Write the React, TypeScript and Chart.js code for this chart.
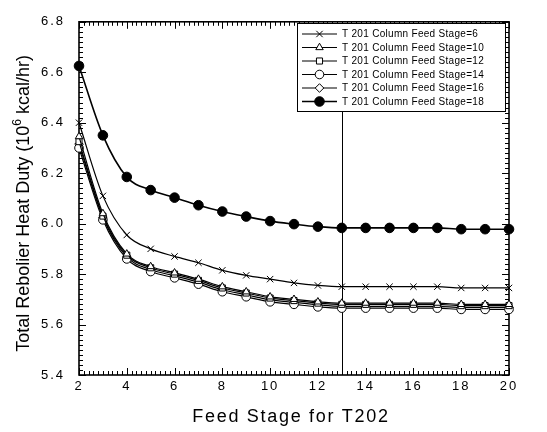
import React, { useEffect, useRef } from "react";
import { Chart, registerables } from "chart.js";
import { drawPoint } from "chart.js/helpers";

Chart.register(...registerables);

const FONT = "'Liberation Sans', Arial, Helvetica, sans-serif";

// ---- data ----
const feedStages = [2, 3, 4, 5, 6, 7, 8, 9, 10, 11, 12, 13, 14, 15, 16, 17, 18, 19, 20];
const stage6 = [6.40, 6.11, 5.955, 5.90, 5.87, 5.845, 5.815, 5.795, 5.78, 5.765, 5.755, 5.75, 5.75, 5.75, 5.75, 5.75, 5.745, 5.745, 5.745];
const stage10 = [6.345, 6.04, 5.88, 5.83, 5.805, 5.78, 5.75, 5.73, 5.71, 5.70, 5.69, 5.685, 5.685, 5.685, 5.685, 5.685, 5.68, 5.68, 5.68];
const stage12 = [6.325, 6.03, 5.875, 5.825, 5.80, 5.775, 5.745, 5.725, 5.705, 5.695, 5.685, 5.68, 5.68, 5.68, 5.68, 5.68, 5.675, 5.675, 5.675];
const stage14 = [6.30, 6.015, 5.86, 5.81, 5.785, 5.76, 5.73, 5.71, 5.69, 5.68, 5.67, 5.665, 5.665, 5.665, 5.665, 5.665, 5.66, 5.66, 5.66];
const stage16 = [6.315, 6.025, 5.868, 5.818, 5.793, 5.768, 5.738, 5.718, 5.698, 5.688, 5.678, 5.672, 5.672, 5.672, 5.672, 5.672, 5.668, 5.668, 5.668];
const stage18 = [6.625, 6.35, 6.185, 6.133, 6.103, 6.073, 6.048, 6.028, 6.01, 5.998, 5.988, 5.983, 5.983, 5.983, 5.983, 5.983, 5.978, 5.978, 5.978];

const seriesLabels = [
  "T 201 Column Feed Stage=6",
  "T 201 Column Feed Stage=10",
  "T 201 Column Feed Stage=12",
  "T 201 Column Feed Stage=14",
  "T 201 Column Feed Stage=16",
  "T 201 Column Feed Stage=18",
];
const seriesValues = [stage6, stage10, stage12, stage14, stage16, stage18];
const seriesMarkers = ["crossRot", "triangle", "rect", "circle", "rectRot", "circle"];
const seriesFilled = [false, false, false, false, false, true];

const xMin = 2;
const xMax = 20;
const xStep = 2;
const yMin = 5.4;
const yMax = 6.8;
const yStep = 0.2;
const markerStage = 13;

const xTitle = "Feed Stage for T202";
const yTitleMain = "Total Rebolier Heat Duty (10";
const yTitleSup = "6";
const yTitleEnd = " kcal/hr)";

const markerRadius = (i: number) => (seriesFilled[i] ? 4.8 : seriesMarkers[i] === "crossRot" ? 4.5 : 4.3);

const decorPlugin = {
  id: "decor",
  beforeDraw(chart: any) {
    chart.ctx.letterSpacing = "2px";
  },
  beforeDatasetsDraw(chart: any) {
    const ctx = chart.ctx;
    ctx.letterSpacing = "0px";
    const { left, right, top, bottom } = chart.chartArea;
    const x = chart.scales.x;
    const y = chart.scales.y;
    ctx.save();
    ctx.strokeStyle = "#000";
    const px = Math.round(x.getPixelForValue(markerStage)) + 0.5;
    ctx.lineWidth = 1;
    ctx.beginPath();
    ctx.moveTo(px, top);
    ctx.lineTo(px, bottom);
    ctx.stroke();
    ctx.lineWidth = 1;
    ctx.beginPath();
    const nx = Math.round((xMax - xMin) / 0.2);
    for (let i = 0; i <= nx; i++) {
      const v = xMin + i * 0.2;
      const p = Math.round(x.getPixelForValue(v)) + 0.5;
      const len = i % 10 === 0 ? 7 : 4;
      ctx.moveTo(p, bottom);
      ctx.lineTo(p, bottom - len);
      ctx.moveTo(p, top);
      ctx.lineTo(p, top + len);
    }
    const ny = Math.round((yMax - yMin) / 0.02);
    for (let i = 0; i <= ny; i++) {
      const v = yMin + i * 0.02;
      const p = Math.round(y.getPixelForValue(v)) + 0.5;
      const len = i % 10 === 0 ? 7 : 4;
      ctx.moveTo(left, p);
      ctx.lineTo(left + len, p);
      ctx.moveTo(right, p);
      ctx.lineTo(right - len, p);
    }
    ctx.stroke();
    ctx.lineWidth = 1.6;
    ctx.strokeRect(left, top, right - left, bottom - top);
    ctx.restore();
  },
  afterDraw(chart: any) {
    const ctx = chart.ctx;
    const { left, right, top, bottom } = chart.chartArea;
    ctx.save();
    ctx.fillStyle = "#000";
    ctx.font = `18px ${FONT}`;
    ctx.letterSpacing = "1.7px";
    ctx.textAlign = "center";
    ctx.textBaseline = "middle";
    ctx.fillText(xTitle, (left + right) / 2 - 3, 417);
    ctx.letterSpacing = "0px";
    ctx.translate(24, (top + bottom) / 2 + 5);
    ctx.rotate(-Math.PI / 2);
    ctx.textAlign = "left";
    ctx.font = `18px ${FONT}`;
    const w1 = ctx.measureText(yTitleMain).width;
    const w3 = ctx.measureText(yTitleEnd).width;
    ctx.font = `12px ${FONT}`;
    const w2 = ctx.measureText(yTitleSup).width;
    const total = w1 + w2 + w3;
    let sx = -total / 2;
    ctx.font = `18px ${FONT}`;
    ctx.fillText(yTitleMain, sx, 0);
    sx += w1;
    ctx.font = `12px ${FONT}`;
    ctx.fillText(yTitleSup, sx, -6);
    sx += w2;
    ctx.font = `18px ${FONT}`;
    ctx.fillText(yTitleEnd, sx, 0);
    ctx.restore();

    // legend
    ctx.save();
    const bx = 297.5, by = 23.5, bw = 208, bh = 88;
    ctx.fillStyle = "#fff";
    ctx.fillRect(bx, by, bw, bh);
    ctx.strokeStyle = "#000";
    ctx.lineWidth = 1;
    ctx.strokeRect(bx, by, bw, bh);
    ctx.font = `10px ${FONT}`;
    ctx.letterSpacing = "0.3px";
    ctx.textAlign = "left";
    ctx.textBaseline = "middle";
    for (let i = 0; i < seriesLabels.length; i++) {
      const ly = 34 + i * 13.5;
      ctx.strokeStyle = "#000";
      ctx.lineWidth = seriesFilled[i] ? 1.6 : 1.2;
      ctx.beginPath();
      ctx.moveTo(302, ly);
      ctx.lineTo(337, ly);
      ctx.stroke();
      ctx.fillStyle = seriesFilled[i] ? "#000" : "#fff";
      ctx.lineWidth = 1;
      drawPoint(ctx, { pointStyle: seriesMarkers[i] as any, radius: markerRadius(i), rotation: 0, borderWidth: 1 } as any, 319.5, ly);
      ctx.fillStyle = "#000";
      ctx.fillText(seriesLabels[i], 342, ly + 0.5);
    }
    ctx.restore();
  },
};

export default function App() {
  const canvasRef = useRef<HTMLCanvasElement | null>(null);

  useEffect(() => {
    const canvas = canvasRef.current;
    if (!canvas) return;
    const datasets = seriesLabels.map((label, i) => ({
      label,
      data: feedStages.map((s, k) => ({ x: s, y: seriesValues[i][k] })),
      borderColor: "#000",
      backgroundColor: seriesFilled[i] ? "#000" : "#fff",
      borderWidth: seriesFilled[i] ? 1.6 : 1.2,
      pointStyle: seriesMarkers[i],
      pointRadius: markerRadius(i),
      pointBorderWidth: 1,
      pointBorderColor: "#000",
      pointBackgroundColor: seriesFilled[i] ? "#000" : "#fff",
      cubicInterpolationMode: "monotone" as const,
      clip: false as any,
      fill: false,
    }));
    const chart = new Chart(canvas, {
      type: "line",
      data: { datasets },
      options: {
        animation: false,
        responsive: false,
        maintainAspectRatio: false,
        layout: { padding: { left: 0, top: 14, right: 38, bottom: 0 } },
        plugins: { legend: { display: false }, tooltip: { enabled: false } },
        scales: {
          x: {
            type: "linear",
            min: xMin,
            max: xMax,
            grid: { display: false, drawTicks: false },
            border: { display: false },
            ticks: {
              stepSize: xStep,
              padding: 4,
              color: "#000",
              font: { family: FONT, size: 13 },
              maxRotation: 0,
              autoSkip: false,
              callback: (v: any) => String(Math.round(Number(v))),
            },
            afterFit: (scale: any) => {
              scale.height = 57;
            },
          },
          y: {
            type: "linear",
            min: yMin,
            max: yMax,
            grid: { display: false, drawTicks: false },
            border: { display: false },
            ticks: {
              stepSize: yStep,
              padding: 14,
              color: "#000",
              font: { family: FONT, size: 13 },
              autoSkip: false,
              callback: (v: any) => Number(v).toFixed(1),
            },
            afterFit: (scale: any) => {
              scale.width = 79;
            },
          },
        },
      },
      plugins: [decorPlugin],
    });
    return () => chart.destroy();
  }, []);

  return (
    <div style={{ position: "absolute", left: 0, top: 0, width: 547, height: 432, background: "#fff" }}>
      <canvas ref={canvasRef} width={547} height={432} style={{ display: "block", width: 547, height: 432 }} />
    </div>
  );
}
